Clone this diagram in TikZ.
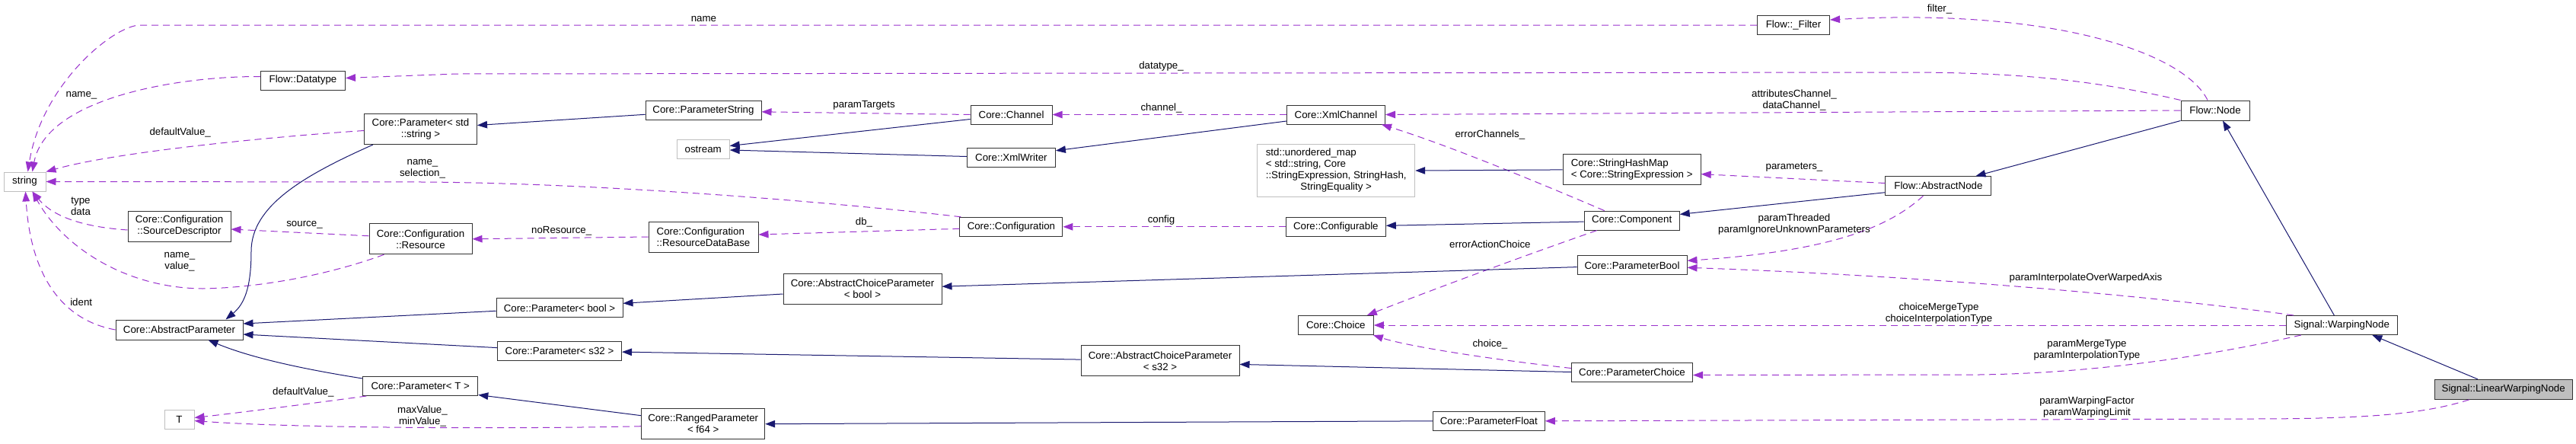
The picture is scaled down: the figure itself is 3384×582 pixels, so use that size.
\documentclass[tikz,border=0pt]{standalone}
\usepackage{fontspec}
\setmainfont{Liberation Sans}
\usetikzlibrary{arrows.meta,calc}
\definecolor{edgeblue}{HTML}{191970}
\definecolor{edgepurple}{HTML}{9A32CD}
\definecolor{boxline}{HTML}{333333}
\definecolor{extline}{HTML}{BFBFBF}
\definecolor{curfill}{HTML}{BFBFBF}
\tikzset{
  cls/.style={draw=boxline, line width=1pt, fill=white, inner sep=0pt, align=center},
  ext/.style={cls, draw=extline},
  cur/.style={cls, fill=curfill},
  lbl/.style={inner sep=0pt, align=center},
  inh/.style={draw=edgeblue, line width=1pt, -{Triangle[length=13pt,width=9.5pt]}},
  use/.style={draw=edgepurple, line width=1pt, dash pattern=on 9pt off 6pt, -{Triangle[length=13pt,width=9.5pt]}},
}
\begin{document}
\begin{tikzpicture}[x=1pt,y=-1pt,font=\fontsize{13.3}{15}\selectfont]
\fill[white] (0,0) rectangle (3384,582);
\useasboundingbox (0,0) rectangle (3384,582);
% nodes
\node[ext, minimum width=55pt, minimum height=25pt] (string) at (32.5,238.5) {string};
\node[cls, minimum width=111pt, minimum height=25pt] (Datatype) at (398,105.5) {Flow::Datatype};
\node[cls, minimum width=148pt, minimum height=40pt] (Pstr) at (552.5,169.5) {Core::Parameter< std\\::string >};
\node[cls, minimum width=135pt, minimum height=40pt] (SrcDesc) at (235.5,297) {Core::Configuration\\::SourceDescriptor};
\node[cls, minimum width=135pt, minimum height=40pt] (Resource) at (552.5,313.8) {Core::Configuration\\::Resource};
\node[cls, minimum width=167pt, minimum height=26pt] (AP) at (235.5,433) {Core::AbstractParameter};
\node[cls, minimum width=151pt, minimum height=25pt] (PT) at (552.3,507) {Core::Parameter< T >};
\node[ext, minimum width=39pt, minimum height=25pt] (T) at (235.5,550.5) {T};
\node[cls, minimum width=152pt, minimum height=25pt] (PString) at (924,145.3) {Core::ParameterString};
\node[ext, minimum width=69pt, minimum height=25pt] (ostream) at (923.7,196) {ostream};
\node[cls, minimum width=144pt, minimum height=40pt, align=left] (RDB) at (924,311) {Core::Configuration\\::ResourceDataBase};
\node[cls, minimum width=208pt, minimum height=40pt] (ACPbool) at (1133,379) {Core::AbstractChoiceParameter\\< bool >};
\node[cls, minimum width=166pt, minimum height=25pt] (Pbool) at (735,404.3) {Core::Parameter< bool >};
\node[cls, minimum width=163pt, minimum height=25pt] (Ps32) at (735,460.6) {Core::Parameter< s32 >};
\node[cls, minimum width=162pt, minimum height=40pt] (Ranged) at (923.7,556.7) {Core::RangedParameter\\< f64 >};
\node[cls, minimum width=107pt, minimum height=25pt] (Channel) at (1328.6,150.5) {Core::Channel};
\node[cls, minimum width=116pt, minimum height=25pt] (XmlWriter) at (1328.4,206.5) {Core::XmlWriter};
\node[cls, minimum width=129pt, minimum height=25pt] (XmlChannel) at (1755,150.5) {Core::XmlChannel};
\node[ext, minimum width=207pt, minimum height=69pt] (umap) at (1755.2,224) {\begin{tabular}{@{}l@{}}std::unordered\_map\\< std::string, Core\\::StringExpression, StringHash,\\\multicolumn{1}{@{}c@{}}{StringEquality >}\end{tabular}};
\node[cls, minimum width=135pt, minimum height=25pt] (Configuration) at (1328.4,297.8) {Core::Configuration};
\node[cls, minimum width=131pt, minimum height=25pt] (Configurable) at (1754.8,297.8) {Core::Configurable};
\node[cls, minimum width=99pt, minimum height=25pt] (Choice) at (1754.8,427) {Core::Choice};
\node[cls, minimum width=208pt, minimum height=40pt] (ACPs32) at (1524,473.8) {Core::AbstractChoiceParameter\\< s32 >};
\node[cls, minimum width=95pt, minimum height=25pt] (Filter) at (2356,33) {Flow::\_Filter};
\node[cls, minimum width=181pt, minimum height=40pt, align=left] (SHM) at (2143.7,222.9) {Core::StringHashMap\\< Core::StringExpression >};
\node[cls, minimum width=125pt, minimum height=25pt] (Component) at (2143.7,289.6) {Core::Component};
\node[cls, minimum width=144pt, minimum height=25pt] (PBool) at (2144,348.3) {Core::ParameterBool};
\node[cls, minimum width=159pt, minimum height=25pt] (PChoice) at (2144,488.5) {Core::ParameterChoice};
\node[cls, minimum width=147pt, minimum height=25pt] (PFloat) at (1955.8,552.8) {Core::ParameterFloat};
\node[cls, minimum width=90pt, minimum height=26pt] (Node) at (2910,145) {Flow::Node};
\node[cls, minimum width=139pt, minimum height=25pt] (ANode) at (2546.4,244.2) {Flow::AbstractNode};
\node[cls, minimum width=146pt, minimum height=25pt] (WNode) at (3076.3,427) {Signal::WarpingNode};
\node[cur, minimum width=181pt, minimum height=26pt] (LWNode) at (3288.7,511.3) {Signal::LinearWarpingNode};
% edges
\draw[use] (Filter.west) -- (184,33) .. controls (150,33) and (55,110) .. ($(string.north)+(4,0)$);
\draw[use] ($(Node.north)+(-10,0)$) .. controls (2870,70) and (2700,10) .. ($(Filter.east)+(0,-7)$);
\draw[use] ($(Datatype.west)+(0,-5)$) .. controls (230,100) and (60,130) .. ($(string.north)+(10,0)$);
\draw[use] (Node.north west) .. controls (2750,105) and (2650,95) .. (2500,95) -- (600,97) -- ($(Datatype.east)+(0,-3)$);
\draw[use] ($(Pstr.west)+(0,2)$) .. controls (350,180) and (150,200) .. (string.north east);
\draw[inh] ($(PString.west)+(0,5)$) -- ($(Pstr.east)+(0,-5)$);
\draw[use] (Channel.west) -- ($(PString.east)+(0,1.5)$);
\draw[inh] ($(Channel.west)+(0,6)$) -- ($(ostream.east)+(0,-4.5)$);
\draw[inh] ($(XmlWriter.west)+(0,-1)$) -- ($(ostream.east)+(0,1)$);
\draw[use] (XmlChannel.west) -- (Channel.east);
\draw[inh] ($(XmlChannel.west)+(0,8.5)$) -- ($(XmlWriter.east)+(0,-8.7)$);
\draw[use] (Node.west) -- (XmlChannel.east);
\draw[use] ($(Component.north)+(-36,0)$) .. controls (2010,235) and (1900,190) .. ($(XmlChannel.south east)+(-5,0)$);
\draw[inh] (SHM.west) -- (umap.east);
\draw[use] ($(Configuration.north west)+(2,0)$) .. controls (1100,266) and (800,241) .. (560,239) -- (string.east);
\draw[use] ($(Configuration.west)+(0,2.5)$) -- ($(RDB.east)+(0,-3)$);
\draw[use] (RDB.west) -- (Resource.east);
\draw[use] ($(Resource.west)+(0,-4)$) -- ($(SrcDesc.east)+(0,4)$);
\draw[use] ($(SrcDesc.west)+(0,5)$) .. controls (110,298) and (70,285) .. ($(string.south)+(10,0)$);
\draw[use] ($(Resource.south west)+(20,0)$) .. controls (420,365) and (330,378) .. (266,379) .. controls (160,378) and (80,320) .. ($(string.south)+(10,0)$);
\draw[use] (AP.west) .. controls (80,420) and (40,360) .. ($(string.south)+(1,0)$);
\draw[inh] ($(Pstr.south west)+(12,0)$) .. controls (400,230) and (330,270) .. (330,330) .. controls (330,380) and (320,400) .. ($(AP.north)+(61,0)$);
\draw[inh] ($(Pbool.west)+(0,4)$) -- ($(AP.east)+(0,-8)$);
\draw[inh] ($(Ps32.west)+(0,-4)$) -- ($(AP.east)+(0,6)$);
\draw[inh] ($(PT.west)+(0,-10)$) .. controls (400,485) and (330,470) .. ($(AP.south)+(38,0)$);
\draw[use] ($(PT.south west)+(5,0)$) .. controls (430,527) and (330,540) .. ($(T.east)+(0,-2)$);
\draw[use] ($(Ranged.west)+(0,3)$) .. controls (700,563) and (400,563) .. ($(T.east)+(0,2)$);
\draw[inh] ($(Ranged.west)+(0,-11)$) -- ($(PT.east)+(0,11.5)$);
\draw[inh] ($(ACPbool.west)+(0,7)$) -- ($(Pbool.east)+(0,-6)$);
\draw[inh] ($(ACPs32.west)+(0,-1.7)$) -- ($(Ps32.east)+(0,1.5)$);
\draw[use] (Configurable.west) -- (Configuration.east);
\draw[inh] ($(Component.west)+(0,1.5)$) -- ($(Configurable.east)+(0,-1.5)$);
\draw[use] ($(Component.south west)+(17,0)$) .. controls (1990,340) and (1870,385) .. ($(Choice.north east)+(-9,0)$);
\draw[inh] ($(ANode.west)+(0,8.5)$) -- ($(Component.east)+(0,-8.2)$);
\draw[use] ($(ANode.west)+(0,-3.7)$) -- ($(SHM.east)+(0,5.7)$);
\draw[use] ($(ANode.south)+(-20,0)$) .. controls (2480,300) and (2400,330) .. ($(PBool.east)+(0,-6)$);
\draw[use] ($(WNode.north west)+(10,0)$) .. controls (2900,398) and (2600,365) .. ($(PBool.east)+(0,3)$);
\draw[use] (WNode.west) -- (Choice.east);
\draw[use] ($(WNode.south west)+(20,0)$) .. controls (2900,468) and (2750,490) .. (2600,492) -- ($(PChoice.east)+(0,4)$);
\draw[use] ($(PChoice.west)+(0,-5)$) .. controls (1960,472) and (1850,455) .. ($(Choice.south east)+(-1,0)$);
\draw[inh] (PChoice.west) -- ($(ACPs32.east)+(0,4.6)$);
\draw[inh] ($(PBool.west)+(0,2.3)$) -- ($(ACPbool.east)+(0,-2.8)$);
\draw[inh] (PFloat.west) -- (Ranged.east);
\draw[use] ($(LWNode.south)+(-45,0)$) .. controls (3180,545) and (3100,550) .. (2950,550) -- (PFloat.east);
\draw[inh] ($(LWNode.north)+(-34,0)$) -- ($(WNode.south)+(40,0)$);
\draw[inh] ($(WNode.north)+(-10,0)$) -- ($(Node.south)+(10,0)$);
\draw[inh] (Node.south west) -- ($(ANode.north)+(49,0)$);
% labels
\node[lbl] (l1) at (924.4,24.5) {name};
\node[lbl] (l2) at (2548,11.5) {filter\_};
\node[lbl] (l3) at (107,125) {name\_};
\node[lbl] (l4) at (1525.5,86.6) {datatype\_};
\node[lbl] (l5) at (236.7,174.3) {defaultValue\_};
\node[lbl] (l6) at (1135,138.7) {paramTargets};
\node[lbl] (l7) at (1525.5,142.4) {channel\_};
\node[lbl] (l8) at (2357,131.3) {attributesChannel\_\\dataChannel\_};
\node[lbl] (l9) at (1957.4,177) {errorChannels\_};
\node[lbl] (l10) at (555,221.7) {name\_\\selection\_};
\node[lbl] (l11) at (1135,291.8) {db\_};
\node[lbl] (l12) at (737.7,303) {noResource\_};
\node[lbl] (l13) at (400,295) {source\_};
\node[lbl] (l14) at (106,271) {type\\data};
\node[lbl] (l15) at (236,344) {name\_\\value\_};
\node[lbl] (l16) at (106.7,396.3) {ident};
\node[lbl] (l17) at (398.3,515.3) {defaultValue\_};
\node[lbl] (l18) at (555,546.5) {maxValue\_\\minValue\_};
\node[lbl] (l19) at (1525.5,289.2) {config};
\node[lbl] (l20) at (1957.4,320.8) {errorActionChoice};
\node[lbl] (l21) at (2357,220) {parameters\_};
\node[lbl] (l22) at (2357,294.3) {paramThreaded\\paramIgnoreUnknownParameters};
\node[lbl] (l23) at (2740,365) {paramInterpolateOverWarpedAxis};
\node[lbl] (l24) at (2547,411.7) {choiceMergeType\\choiceInterpolationType};
\node[lbl] (l25) at (2741.5,460) {paramMergeType\\paramInterpolationType};
\node[lbl] (l26) at (1957.4,452.4) {choice\_};
\node[lbl] (l27) at (2741.5,534.4) {paramWarpingFactor\\paramWarpingLimit};
\end{tikzpicture}
\end{document}
